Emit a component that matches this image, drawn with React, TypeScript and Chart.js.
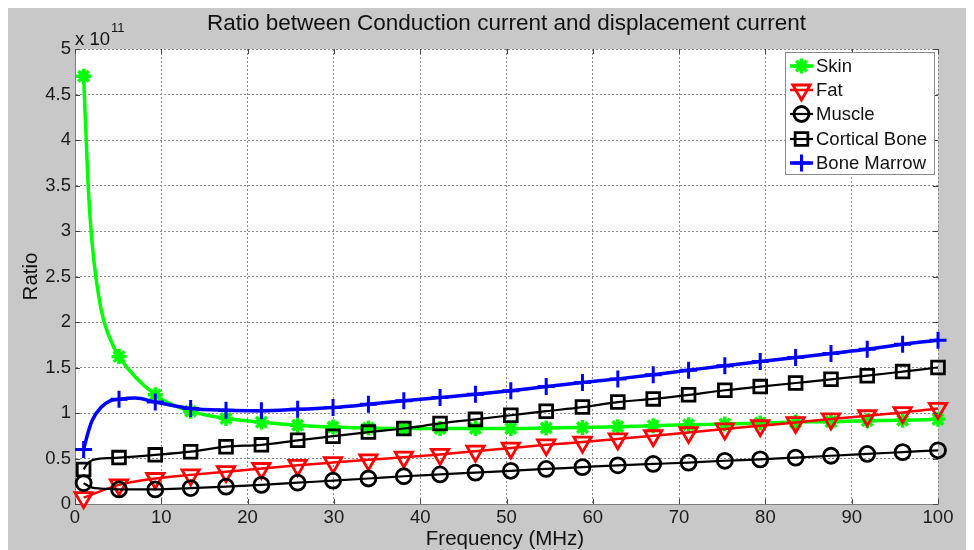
import React, { useEffect, useRef } from 'react';
import { Chart, registerables } from 'chart.js';
import * as helpers from 'chart.js/helpers';

Chart.register(...registerables);

// ---------- texts ----------
const TITLE = 'Ratio between Conduction current and displacement current';
const X_TITLE = 'Frequency (MHz)';
const Y_TITLE = 'Ratio';
const Y_MULT_BASE = 'x 10';
const Y_MULT_EXP = '11';

// ---------- ticks ----------
const xTicks = [0, 10, 20, 30, 40, 50, 60, 70, 80, 90, 100];
const yTicks = [0, 0.5, 1, 1.5, 2, 2.5, 3, 3.5, 4, 4.5, 5];

// ---------- data (ratio in units of 1e11) ----------
const seriesNames = ['Skin', 'Fat', 'Muscle', 'Cortical Bone', 'Bone Marrow'];

// frequencies where markers are drawn (MHz)
const markerFreq = [1, 5.1, 9.3, 13.4, 17.5, 21.6, 25.8, 29.9, 34, 38.1, 42.3, 46.4, 50.5,
  54.6, 58.8, 62.9, 67, 71.1, 75.3, 79.4, 83.5, 87.6, 91.8, 95.9, 100];

const skin = [4.7, 1.62, 1.2, 1.02, 0.94, 0.9, 0.865, 0.845, 0.835, 0.83, 0.83, 0.83, 0.83,
  0.835, 0.84, 0.85, 0.86, 0.87, 0.88, 0.89, 0.9, 0.905, 0.915, 0.92, 0.93];
const fat = [0.07, 0.21, 0.28, 0.32, 0.355, 0.39, 0.425, 0.455, 0.485, 0.515, 0.545, 0.58, 0.615,
  0.65, 0.68, 0.715, 0.75, 0.785, 0.825, 0.86, 0.895, 0.935, 0.97, 1.005, 1.05];
const muscle = [0.23, 0.16, 0.16, 0.175, 0.19, 0.21, 0.234, 0.256, 0.28, 0.305, 0.325, 0.345, 0.365,
  0.385, 0.405, 0.425, 0.44, 0.455, 0.475, 0.49, 0.51, 0.53, 0.55, 0.57, 0.59];
const cortical = [0.38, 0.51, 0.54, 0.575, 0.63, 0.65, 0.7, 0.745, 0.79, 0.83, 0.885, 0.93, 0.975,
  1.02, 1.065, 1.12, 1.155, 1.2, 1.25, 1.29, 1.33, 1.37, 1.41, 1.455, 1.5];
const marrow = [0.6, 1.15, 1.12, 1.05, 1.03, 1.025, 1.04, 1.06, 1.095, 1.135, 1.17, 1.205, 1.245,
  1.29, 1.335, 1.375, 1.42, 1.47, 1.52, 1.565, 1.61, 1.655, 1.7, 1.755, 1.8];

// extra curve samples (no marker) read off the steep low-frequency part
const skinCurveFreq = [1.5, 2, 3, 4];
const skinCurve = [3.55, 2.85, 2.15, 1.83];
const fatCurveFreq: number[] = [];
const fatCurve: number[] = [];
const muscleCurveFreq = [1.5, 2, 3, 4];
const muscleCurve = [0.2, 0.18, 0.17, 0.165];
const corticalCurveFreq = [1.5, 2, 3, 4];
const corticalCurve = [0.45, 0.48, 0.5, 0.505];
const marrowCurveFreq = [1.5, 2, 3, 4, 7];
const marrowCurve = [0.78, 0.92, 1.06, 1.13, 1.165];

// ---------- styles ----------
const FONT = '"Liberation Sans", Arial, Helvetica, sans-serif';
const styles = [
  { color: '#00ff00', lineWidth: 3.5, pointStyle: 'star', radius: 7.5, rotation: 0, pointBorder: 3.5 },
  { color: '#ff0000', lineWidth: 2.5, pointStyle: 'triangle', radius: 10, rotation: 180, pointBorder: 2.8 },
  { color: '#000000', lineWidth: 2.2, pointStyle: 'circle', radius: 7.5, rotation: 0, pointBorder: 2.8 },
  { color: '#000000', lineWidth: 2.2, pointStyle: 'rect', radius: 9, rotation: 0, pointBorder: 2.8 },
  { color: '#0000ff', lineWidth: 3.5, pointStyle: 'cross', radius: 8.5, rotation: 0, pointBorder: 3 },
];

type Pt = { x: number; y: number; m: boolean };
function buildPoints(mx: number[], my: number[], cx: number[], cy: number[]): Pt[] {
  const pts: Pt[] = mx.map((x, i) => ({ x, y: my[i], m: true }));
  cx.forEach((x, i) => pts.push({ x, y: cy[i], m: false }));
  pts.sort((a, b) => a.x - b.x);
  return pts;
}

const seriesData = [
  buildPoints(markerFreq, skin, skinCurveFreq, skinCurve),
  buildPoints(markerFreq, fat, fatCurveFreq, fatCurve),
  buildPoints(markerFreq, muscle, muscleCurveFreq, muscleCurve),
  buildPoints(markerFreq, cortical, corticalCurveFreq, corticalCurve),
  buildPoints(markerFreq, marrow, marrowCurveFreq, marrowCurve),
];

const W = 967;
const H = 543;

const decorPlugin = {
  id: 'matlabDecor',
  beforeDraw(chart: any) {
    const { ctx, chartArea: a } = chart;
    ctx.save();
    ctx.fillStyle = '#c8c8c8';
    ctx.fillRect(0, 0, chart.width, chart.height);
    ctx.fillStyle = '#ffffff';
    ctx.fillRect(a.left, a.top, a.right - a.left, a.bottom - a.top);
    ctx.restore();
  },
  afterDatasetsDraw(chart: any) {
    const { ctx, chartArea: a, scales } = chart;
    ctx.save();
    // inward ticks
    ctx.strokeStyle = '#444444';
    ctx.lineWidth = 1;
    const tl = 5;
    xTicks.forEach((v) => {
      const px = Math.round(scales.x.getPixelForValue(v)) + 0.5;
      ctx.beginPath();
      ctx.moveTo(px, a.bottom); ctx.lineTo(px, a.bottom - tl);
      ctx.moveTo(px, a.top); ctx.lineTo(px, a.top + tl);
      ctx.stroke();
    });
    yTicks.forEach((v) => {
      const py = Math.round(scales.y.getPixelForValue(v)) + 0.5;
      ctx.beginPath();
      ctx.moveTo(a.left, py); ctx.lineTo(a.left + tl, py);
      ctx.moveTo(a.right, py); ctx.lineTo(a.right - tl, py);
      ctx.stroke();
    });
    ctx.restore();
  },
  afterDraw(chart: any) {
    const { ctx, chartArea: a } = chart;
    ctx.save();
    ctx.fillStyle = '#111111';
    // title
    ctx.font = `22.5px ${FONT}`;
    ctx.textAlign = 'center';
    ctx.textBaseline = 'alphabetic';
    ctx.fillText(TITLE, 499.5, 23);
    // x title
    ctx.font = `20.5px ${FONT}`;
    ctx.fillText(X_TITLE, 498, 538);
    // y title
    ctx.save();
    ctx.translate(29.5, (a.top + a.bottom) / 2);
    ctx.rotate(-Math.PI / 2);
    ctx.fillText(Y_TITLE, 0, 0);
    ctx.restore();
    // exponent
    ctx.textAlign = 'left';
    ctx.font = `18.5px ${FONT}`;
    ctx.fillText(Y_MULT_BASE, a.left, 38);
    const bw = ctx.measureText(Y_MULT_BASE).width;
    ctx.font = `13px ${FONT}`;
    ctx.fillText(Y_MULT_EXP, a.left + bw + 1, 25);

    // legend
    const lx = 778, ly = 45, lw = 150, lh = 123;
    ctx.fillStyle = '#ffffff';
    ctx.fillRect(lx, ly, lw, lh);
    ctx.strokeStyle = '#8a8a8a';
    ctx.lineWidth = 1;
    ctx.strokeRect(lx + 0.5, ly + 0.5, lw - 1, lh - 1);
    const rowY = [59, 83, 107, 132, 156];
    seriesNames.forEach((name, i) => {
      const s = styles[i];
      const y = rowY[i];
      ctx.strokeStyle = s.color;
      ctx.lineWidth = s.lineWidth;
      ctx.beginPath();
      ctx.moveTo(783, y);
      ctx.lineTo(806, y);
      ctx.stroke();
      ctx.fillStyle = 'rgba(0,0,0,0)';
      ctx.lineWidth = s.pointBorder;
      helpers.drawPoint(ctx, { pointStyle: s.pointStyle, rotation: s.rotation, radius: s.radius, borderWidth: s.pointBorder } as any, 794.5, y);
      ctx.fillStyle = '#111111';
      ctx.font = `18.5px ${FONT}`;
      ctx.textAlign = 'left';
      ctx.textBaseline = 'middle';
      ctx.fillText(name, 809, y + 1);
    });
    ctx.restore();
  },
};

export default function App() {
  const ref = useRef<HTMLCanvasElement | null>(null);
  useEffect(() => {
    if (!ref.current) return;
    const tickFont = { family: FONT, size: 18.5 };
    const chart = new Chart(ref.current, {
      type: 'line',
      data: {
        datasets: seriesNames.map((name, i) => {
          const s = styles[i];
          return {
            label: name,
            data: seriesData[i],
            borderColor: s.color,
            backgroundColor: 'rgba(0,0,0,0)',
            borderWidth: s.lineWidth,
            pointStyle: s.pointStyle,
            pointRotation: s.rotation,
            pointRadius: (c: any) => (c.raw && c.raw.m ? s.radius : 0),
            pointHoverRadius: 0,
            pointBorderWidth: s.pointBorder,
            pointBorderColor: s.color,
            pointBackgroundColor: 'rgba(0,0,0,0)',
            cubicInterpolationMode: 'monotone',
            clip: false,
            order: 5 - i,
          } as any;
        }),
      },
      options: {
        responsive: false,
        animation: false,
        devicePixelRatio: 1,
        events: [],
        layout: { padding: { left: 0, right: 36, top: 42, bottom: 0 } },
        plugins: { legend: { display: false }, title: { display: false }, tooltip: { enabled: false } },
        scales: {
          x: {
            type: 'linear',
            min: 0,
            max: 100,
            afterFit: (s: any) => { s.height = 46; },
            afterBuildTicks: (s: any) => { s.ticks = xTicks.map((v) => ({ value: v })); },
            ticks: { font: tickFont, color: '#1a1a1a', padding: 3, maxRotation: 0, autoSkip: false, callback: (v: any) => String(v) },
            grid: { color: '#8c8c8c', lineWidth: 1, drawTicks: false },
            border: { display: true, color: '#7f7f7f', width: 1, dash: [2, 2] },
          },
          y: {
            type: 'linear',
            min: 0,
            max: 5,
            afterFit: (s: any) => { s.width = 68; },
            afterBuildTicks: (s: any) => { s.ticks = yTicks.map((v) => ({ value: v })); },
            ticks: { font: tickFont, color: '#1a1a1a', padding: 4, autoSkip: false, callback: (v: any) => String(v) },
            grid: { color: '#8c8c8c', lineWidth: 1, drawTicks: false },
            border: { display: true, color: '#7f7f7f', width: 1, dash: [2, 2] },
          },
        },
      },
      plugins: [decorPlugin],
    } as any);
    return () => chart.destroy();
  }, []);
  return (
    <div style={{ marginLeft: -1, marginTop: -1, width: W, height: H }}>
      <canvas ref={ref} width={W} height={H} style={{ display: 'block', width: W, height: H }} />
    </div>
  );
}
